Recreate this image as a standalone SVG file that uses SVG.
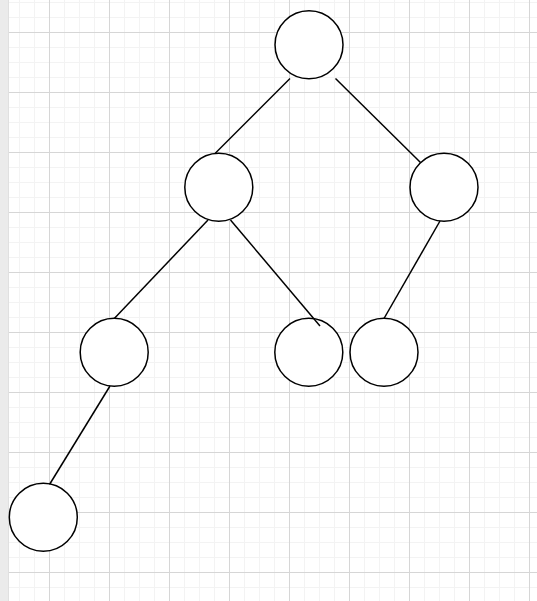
<svg xmlns="http://www.w3.org/2000/svg" width="537" height="601" viewBox="0 0 537 601">
  <defs>
    <pattern id="minor" x="4" y="2" width="15" height="15" patternUnits="userSpaceOnUse">
      <path d="M0.5 0V15M0 0.5H15" stroke="#f3f3f3" stroke-width="1" fill="none"/>
    </pattern>
    <pattern id="major" x="49" y="32" width="60" height="60" patternUnits="userSpaceOnUse">
      <path d="M0.5 0V60M0 0.5H60" stroke="#d6d6d6" stroke-width="1" fill="none"/>
    </pattern>
  </defs>
  <style>
    .node { fill: #ffffff; stroke: #000000; stroke-width: 1.5; }
    .edge { stroke: #000000; stroke-width: 1.5; fill: none; }
  </style>
  <rect x="0" y="0" width="537" height="601" fill="#ffffff"/>
  <rect x="9" y="0" width="528" height="601" fill="url(#minor)"/>
  <rect x="9" y="0" width="528" height="601" fill="url(#major)"/>
  <rect x="0" y="0" width="9" height="601" fill="#ebebeb"/>
  <line x1="8.5" y1="0" x2="8.5" y2="601" stroke="#e0e0e0" stroke-width="1"/>

  <g id="node-root"><circle class="node" cx="309" cy="44.7" r="34"/></g>
  <g id="node-l"><circle class="node" cx="218.8" cy="187.2" r="34"/></g>
  <g id="node-r"><circle class="node" cx="444" cy="187.2" r="34"/></g>
  <g id="node-ll"><circle class="node" cx="114.2" cy="352.2" r="34"/></g>
  <g id="node-lr"><circle class="node" cx="308.8" cy="352.2" r="34"/></g>
  <g id="node-rl"><circle class="node" cx="384" cy="352.2" r="34"/></g>
  <g id="node-lll"><circle class="node" cx="43.3" cy="517.2" r="34"/></g>

  <g id="connectors">
    <line class="edge" x1="290" y1="78.5" x2="215" y2="153.5"/>
    <line class="edge" x1="335.5" y1="78.5" x2="420.5" y2="162.5"/>
    <line class="edge" x1="208" y1="220" x2="114.3" y2="318.5"/>
    <line class="edge" x1="230.5" y1="220" x2="320" y2="326"/>
    <line class="edge" x1="440" y1="221" x2="384" y2="318.5"/>
    <line class="edge" x1="110" y1="386" x2="49.5" y2="484.5"/>
  </g>
</svg>
